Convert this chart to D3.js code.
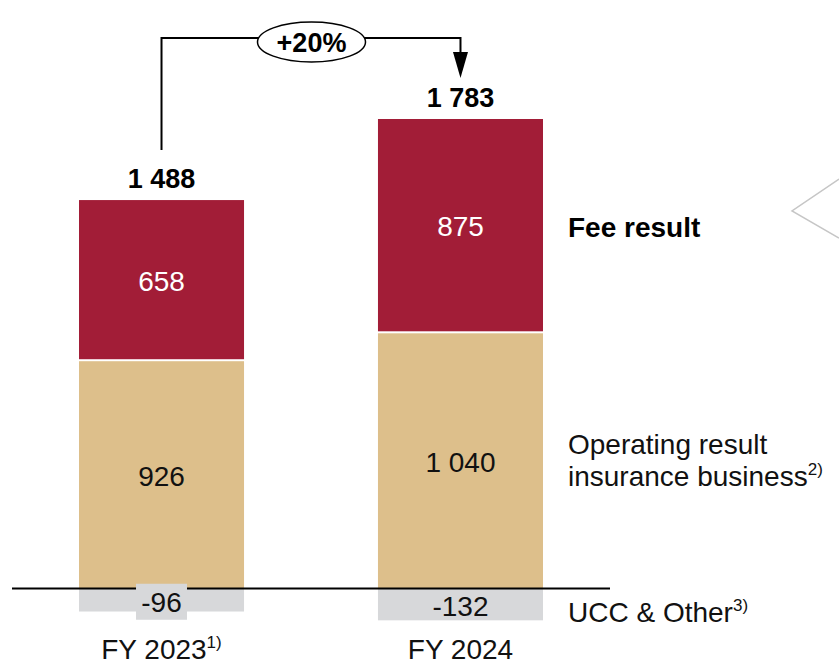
<!DOCTYPE html>
<html>
<head>
<meta charset="utf-8">
<title>Operating result FY 2023 vs FY 2024</title>
<style>
  body { margin: 0; background: #fff; }
  svg text { font-family: "Liberation Sans", Arial, sans-serif; }
</style>
</head>
<body>
<div id="container"></div>
<script src="https://d3js.org/d3.v7.min.js"></script>
<script>
// Data.
const years = ["FY 2023", "FY 2024"];
const yearNotes = ["1)", ""];
const feeResult = [658, 875];
const operatingResult = [926, 1040];
const uccOther = [-96, -132];
const totals = [1488, 1783];
const growth = "+20%";

const seriesNames = ["UCC & Other", "Operating result insurance business", "Fee result"];
const seriesNotes = ["3)", "2)", ""];

const width = 839;
const height = 662;

const feeColor = "#A21D37";
const opColor = "#DDBF8B";
const uccColor = "#D7D8DA";

// x: band scale for the two years
const x = d3.scaleBand()
    .domain(years)
    .range([79, 543])
    .paddingInner(0.448)
    .paddingOuter(0);

// y: linear, zero line at 588
const y = d3.scaleLinear()
    .domain([0, 1915])
    .range([588, 119]);

const svg = d3.create("svg")
    .attr("width", width)
    .attr("height", height);

// Stack rows: one per year
const rows = years.map((yr, i) => ({
    year: yr,
    ucc: uccOther[i],
    op: operatingResult[i],
    fee: feeResult[i],
    total: totals[i]
}));

const cx = d => x(d.year) + x.bandwidth() / 2;
const fmt = v => d3.format(",")(v).replace(/,/g, " ");

// Negative segment (UCC & Other)
svg.append("g").selectAll("rect")
    .data(rows)
    .join("rect")
    .attr("x", d => x(d.year))
    .attr("width", x.bandwidth())
    .attr("y", y(0))
    .attr("height", d => y(d.ucc) - y(0))
    .attr("fill", uccColor);

// Operating result segment
svg.append("g").selectAll("rect")
    .data(rows)
    .join("rect")
    .attr("x", d => x(d.year))
    .attr("width", x.bandwidth())
    .attr("y", d => y(d.op))
    .attr("height", d => y(0) - y(d.op))
    .attr("fill", opColor);

// Fee result segment (white gap between segments)
svg.append("g").selectAll("rect")
    .data(rows)
    .join("rect")
    .attr("x", d => x(d.year))
    .attr("width", x.bandwidth())
    .attr("y", d => y(d.op + d.fee))
    .attr("height", d => y(d.op) - y(d.op + d.fee) - 2)
    .attr("fill", feeColor);

// Zero line
svg.append("line")
    .attr("x1", 12)
    .attr("x2", 610)
    .attr("y1", y(0) + 0.5)
    .attr("y2", y(0) + 0.5)
    .attr("stroke", "#000")
    .attr("stroke-width", 1.8);

// Segment labels
svg.append("g").selectAll("text")
    .data(rows)
    .join("text")
    .attr("x", cx)
    .attr("y", d => (y(d.op) + y(d.op + d.fee)) / 2 + 10)
    .attr("text-anchor", "middle")
    .attr("font-size", 28)
    .attr("fill", "#fff")
    .text(d => fmt(d.fee));

svg.append("g").selectAll("text")
    .data(rows)
    .join("text")
    .attr("x", cx)
    .attr("y", d => (y(0) + y(d.op)) / 2 + 11)
    .attr("text-anchor", "middle")
    .attr("font-size", 28)
    .attr("fill", "#111")
    .text(d => fmt(d.op));

// Negative labels; the small one sits on a box that hides the zero line
const uccLabels = svg.append("g").selectAll("g")
    .data(rows)
    .join("g")
    .attr("transform", d => `translate(${cx(d)},${(y(0) + y(d.ucc)) / 2 + 2})`);

uccLabels.filter(d => d.ucc > -100).append("rect")
    .attr("x", -25.5)
    .attr("width", 51)
    .attr("y", -18)
    .attr("height", 36)
    .attr("fill", uccColor);

uccLabels.append("text")
    .attr("y", 10)
    .attr("text-anchor", "middle")
    .attr("font-size", 28)
    .attr("fill", "#111")
    .text(d => String(d.ucc));

// Totals
svg.append("g").selectAll("text")
    .data(rows)
    .join("text")
    .attr("x", cx)
    .attr("y", d => y(d.op + d.fee) - 12)
    .attr("text-anchor", "middle")
    .attr("font-size", 27)
    .attr("font-weight", "bold")
    .attr("fill", "#000")
    .text(d => fmt(d.total));

// Category labels below
const catLabels = svg.append("g").selectAll("text")
    .data(years)
    .join("text")
    .attr("x", d => x(d) + x.bandwidth() / 2)
    .attr("y", 659)
    .attr("text-anchor", "middle")
    .attr("font-size", 28)
    .attr("fill", "#111");
catLabels.append("tspan").text(d => d);
catLabels.append("tspan")
    .attr("font-size", 17)
    .attr("dy", -11)
    .text((d, i) => yearNotes[i]);

// Series labels on the right
const labelX = 568;
svg.append("text")
    .attr("x", labelX)
    .attr("y", 237)
    .attr("font-size", 28)
    .attr("font-weight", "bold")
    .attr("fill", "#000")
    .text(seriesNames[2]);

const opLabel = svg.append("text")
    .attr("x", labelX)
    .attr("y", 454)
    .attr("font-size", 28)
    .attr("fill", "#111");
opLabel.append("tspan").text("Operating result");
opLabel.append("tspan").attr("x", labelX).attr("dy", 32).text("insurance business");
opLabel.append("tspan").attr("font-size", 17).attr("dy", -11).text(seriesNotes[1]);

const uccLabel = svg.append("text")
    .attr("x", labelX)
    .attr("y", 622)
    .attr("font-size", 28)
    .attr("fill", "#111");
uccLabel.append("tspan").text(seriesNames[0]);
uccLabel.append("tspan").attr("font-size", 17).attr("dy", -11).text(seriesNotes[0]);

// Growth arrow between totals
const x0 = cx(rows[0]);
const x1 = cx(rows[1]);
const topY = 38;
const startY = y(rows[0].op + rows[0].fee) - 50;
const endY = y(rows[1].op + rows[1].fee) - 41;

svg.append("path")
    .attr("d", `M${x0},${startY}V${topY}H${x1}V${endY - 22}`)
    .attr("fill", "none")
    .attr("stroke", "#000")
    .attr("stroke-width", 2);

svg.append("path")
    .attr("d", `M${x1 - 7.5},${endY - 26}L${x1 + 7.5},${endY - 26}L${x1},${endY}Z`)
    .attr("fill", "#000");

const ex = (x0 + x1) / 2 + 0.5;
svg.append("ellipse")
    .attr("cx", ex)
    .attr("cy", 42)
    .attr("rx", 54)
    .attr("ry", 20)
    .attr("fill", "#fff")
    .attr("stroke", "#000")
    .attr("stroke-width", 1.5);

svg.append("text")
    .attr("x", ex)
    .attr("y", 52)
    .attr("text-anchor", "middle")
    .attr("font-size", 27)
    .attr("font-weight", "bold")
    .attr("fill", "#000")
    .text(growth);

// Partial callout outline at the right edge
svg.append("polyline")
    .attr("points", "839,179 792,211 839,238")
    .attr("fill", "none")
    .attr("stroke", "#C6C6C6")
    .attr("stroke-width", 1.5);

document.getElementById("container").append(svg.node());
</script>
</body>
</html>
